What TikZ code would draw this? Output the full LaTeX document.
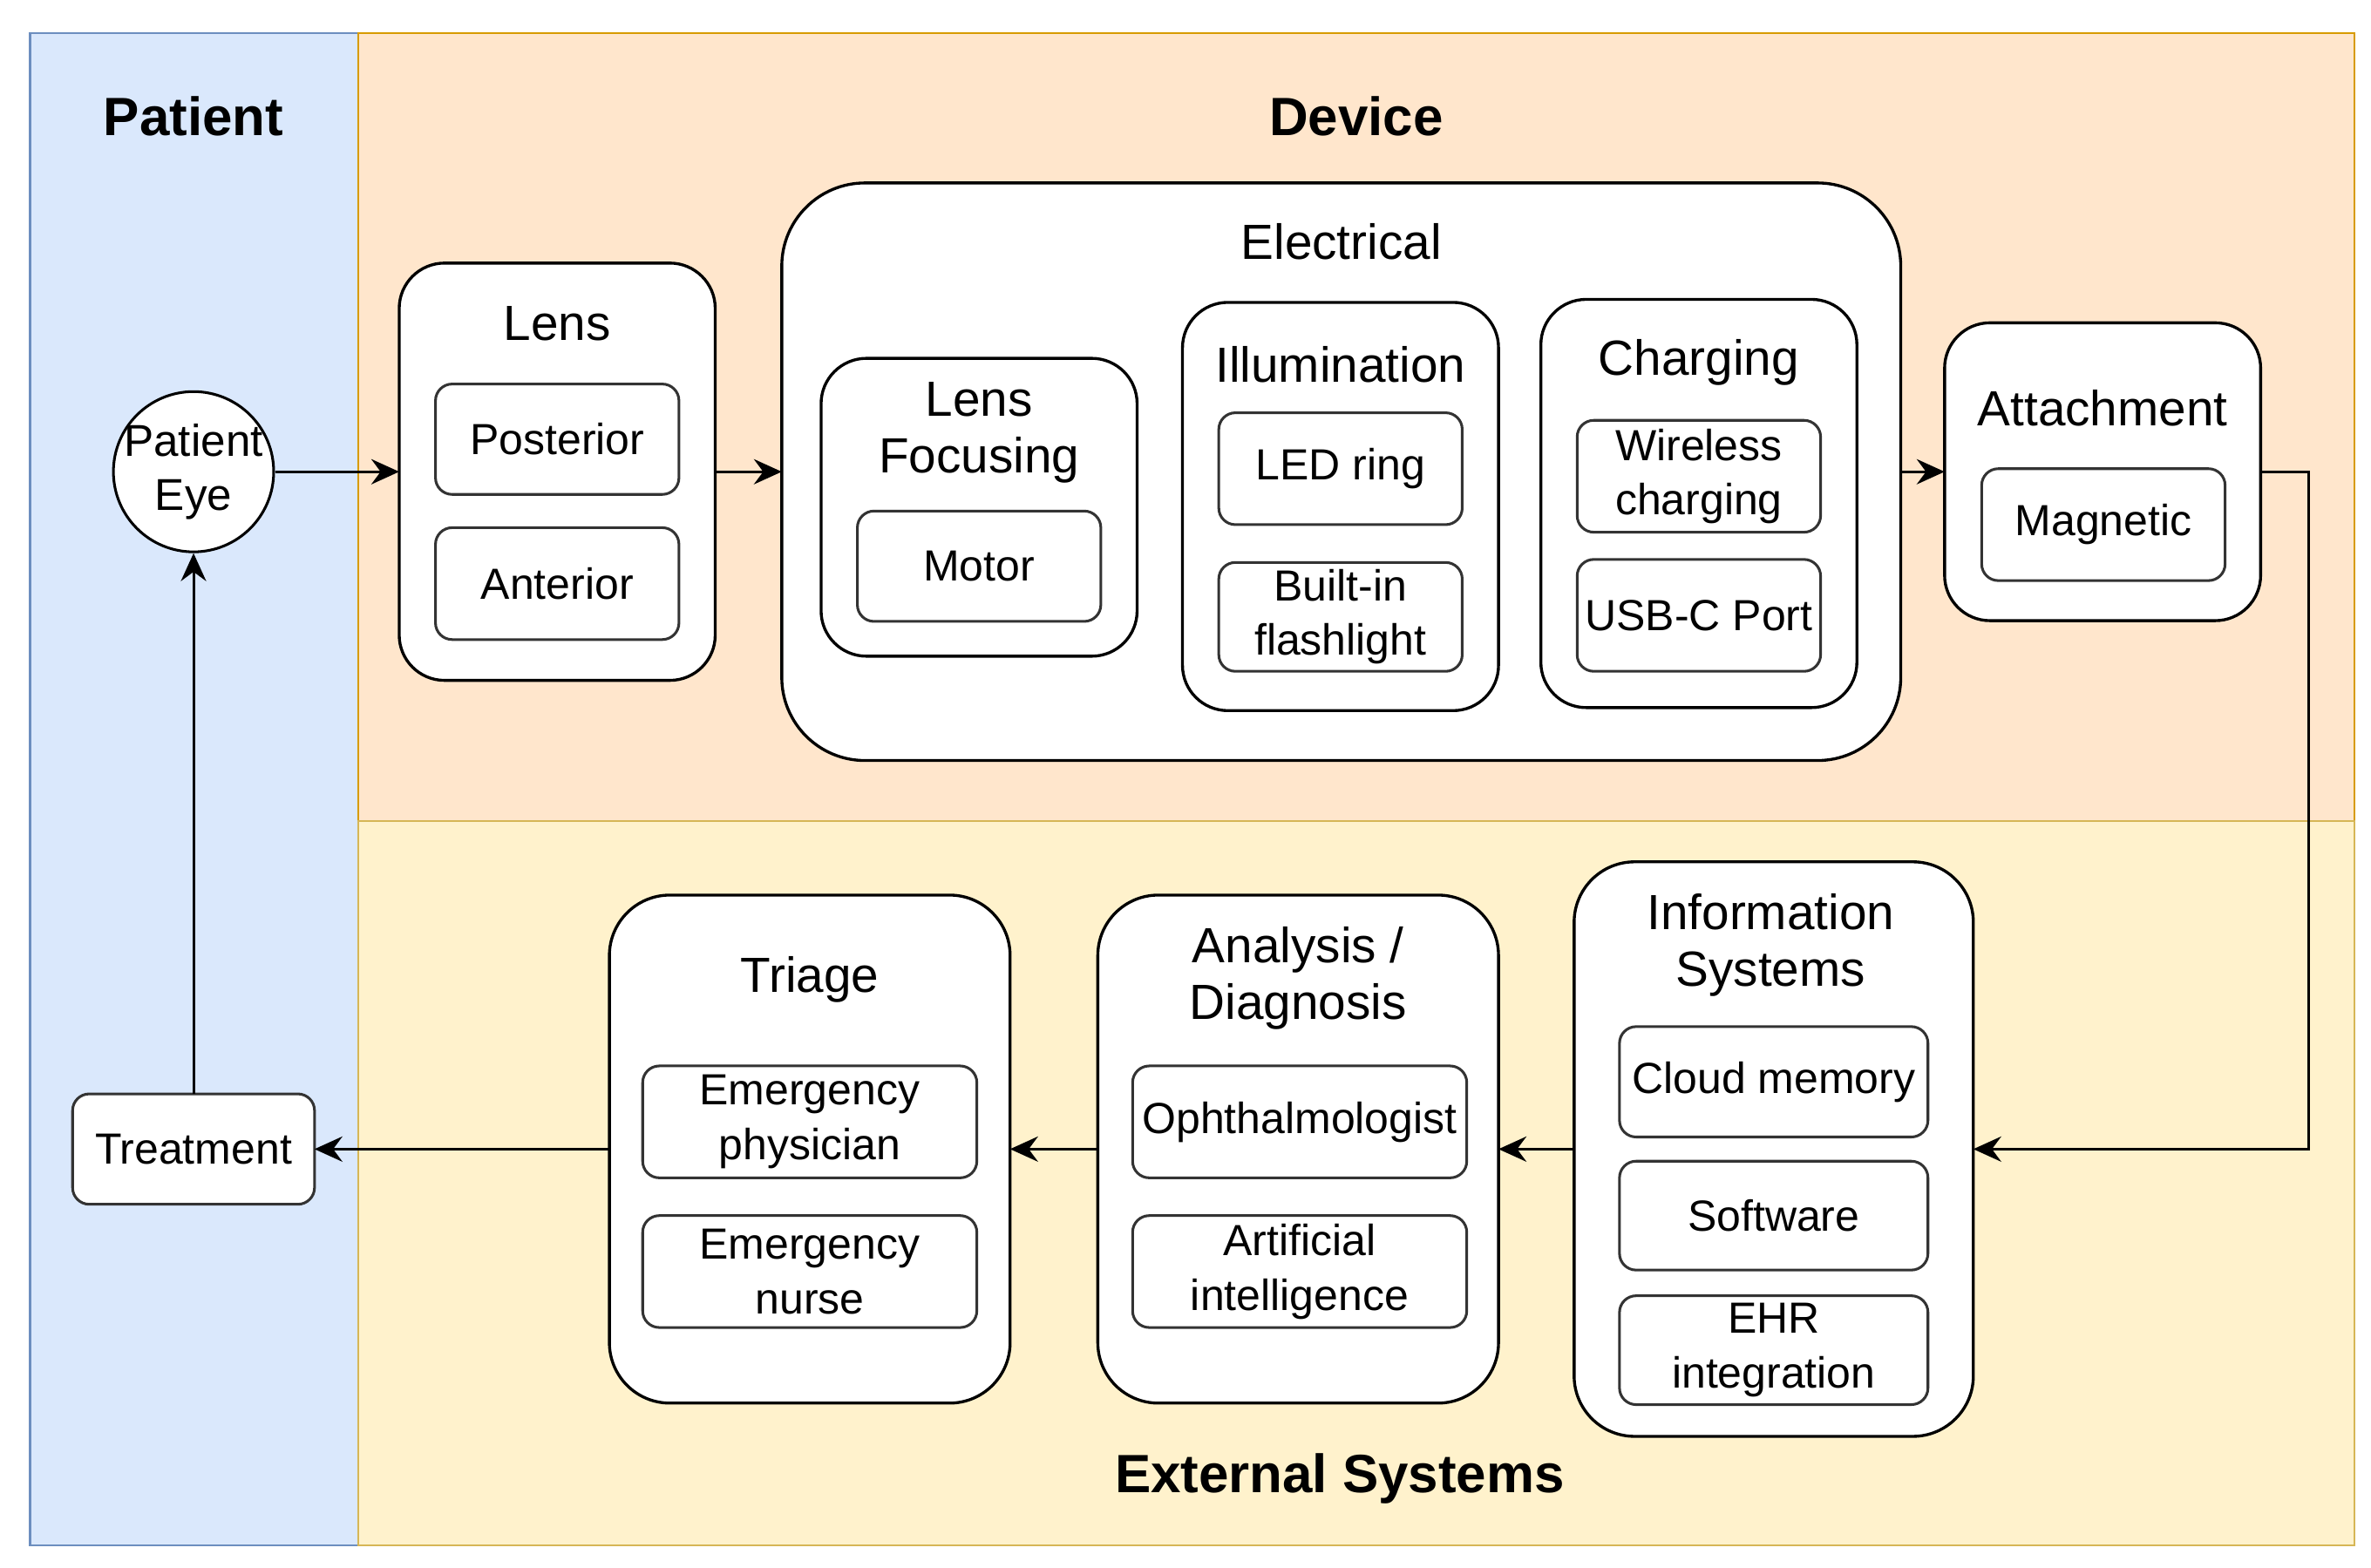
\documentclass[tikz,border=0pt]{standalone}
\usepackage{fontspec}
\setmainfont{Liberation Sans}
\usetikzlibrary{arrows.meta}
\definecolor{blueF}{HTML}{DAE8FC}
\definecolor{blueD}{HTML}{6C8EBF}
\definecolor{orgF}{HTML}{FFE6CC}
\definecolor{orgD}{HTML}{D79B00}
\definecolor{yelF}{HTML}{FFF2CC}
\definecolor{yelD}{HTML}{D6B656}
\begin{document}
\begin{tikzpicture}[x=0.02cm,y=-0.02cm,
  font=\fontsize{16.4}{20.5}\selectfont,
  lane/.style n args={2}{draw, line width=0.8pt, inner sep=0pt, outer sep=0pt, anchor=north west, minimum width=#1*0.02cm, minimum height=#2*0.02cm},
  cont/.style n args={3}{draw=black, fill=white, line width=1.1pt, rounded corners=#3, inner sep=0pt, outer sep=0pt, minimum width=#1*0.02cm, minimum height=#2*0.02cm},
  item/.style n args={2}{draw=black!80, fill=white, line width=1pt, rounded corners=0.22cm, inner sep=0pt, outer sep=0pt, align=center, minimum width=#1*0.02cm, minimum height=#2*0.02cm},
  ttl/.style={align=center, inner sep=0pt, font=\fontsize{18.6}{21.2}\selectfont},
  lanettl/.style={font=\fontsize{20.3}{24}\selectfont\bfseries, inner sep=0pt},
  arr/.style={draw=black, line width=1pt, -{Stealth[length=10.5pt,width=9.5pt,inset=3.5pt]}}
]
\useasboundingbox (0,0) rectangle (1568,1037);

% lanes
\node[lane={217}{1000}, fill=blueF, draw=blueD] (patientlane) at (20,22) {};
\node[lane={1320}{521}, fill=orgF, draw=orgD] (devicelane) at (237,22) {};
\node[lane={1320}{479}, fill=yelF, draw=yelD] (extlane) at (237,543) {};
\node[lanettl] (patientttl) at (128,77) {Patient};
\node[lanettl] (devicettl) at (897,77) {Device};
\node[lanettl] (extttl) at (886,978) {External Systems};

% patient lane
\node[circle, draw=black, fill=white, line width=1pt, minimum size=106*0.02cm, inner sep=-12pt, align=center, font=\fontsize{16.8}{20.5}\selectfont] (eye) at (128,312) {Patient\\Eye};
\node[item={160}{73}] (treat) at (128,760) {Treatment};

% device lane
\node[cont={209}{276}{0.6cm}] (lens) at (368.5,312) {};
\node[ttl] (lensttl) at (368.5,214) {Lens};
\node[item={161}{73}] (post) at (368.5,290.5) {Posterior};
\node[item={161}{74}] (ant) at (368.5,386) {Anterior};

\node[cont={740}{382}{1.1cm}] (elec) at (887,312) {};
\node[ttl] (electtl) at (887,160) {Electrical};

\node[cont={209}{197}{0.6cm}] (focus) at (647.5,335.5) {};
\node[ttl] (focusttl) at (647.5,286) {Lens\\Focusing};
\node[item={161}{73}] (motor) at (647.5,374.5) {Motor};

\node[cont={209}{270}{0.6cm}] (illum) at (886.5,335) {};
\node[ttl] (illumttl) at (886.5,241) {Illumination};
\node[item={161}{74}] (led) at (886.5,310) {LED ring};
\node[item={161}{72}] (flash) at (886.5,408) {Built-in\\flashlight};

\node[cont={209}{270}{0.6cm}] (charge) at (1123.5,333) {};
\node[ttl] (chargettl) at (1123.5,240) {Charging};
\node[item={161}{74}] (wireless) at (1123.5,315) {Wireless\\charging};
\node[item={161}{74}] (usbc) at (1123.5,407) {USB-C Port};

\node[cont={209}{197}{0.6cm}] (attach) at (1390.5,312) {};
\node[ttl] (attachttl) at (1390.5,270) {Attachment};
\node[item={161}{74}] (magnet) at (1391,347) {Magnetic};

% external lane
\node[cont={265}{336}{0.8cm}] (triage) at (535.5,760) {};
\node[ttl] (triagettl) at (535.5,648) {Triage};
\node[item={221}{74}] (ephys) at (535.5,742) {Emergency\\physician};
\node[item={221}{74}] (enurse) at (535.5,841) {Emergency\\nurse};

\node[cont={265}{336}{0.8cm}] (anal) at (858.5,760) {};
\node[ttl] (analttl) at (858.5,647) {Analysis /\\Diagnosis};
\node[item={221}{74}] (ophth) at (859.5,742) {Ophthalmologist};
\node[item={221}{74}] (ai) at (859.5,841) {Artificial\\intelligence};

\node[cont={264}{380}{0.8cm}] (info) at (1173,760) {};
\node[ttl] (infottl) at (1171,625) {Information\\Systems};
\node[item={204}{73}] (cloud) at (1173,715.5) {Cloud memory};
\node[item={204}{72}] (soft) at (1173,804) {Software};
\node[item={204}{72}] (ehr) at (1173,893) {EHR\\integration};

% connectors
\coordinate (bend) at (1527,312);
\draw[arr] (eye.east) -- (lens.west);
\draw[arr] (lens.east) -- (elec.west);
\draw[arr] (elec.east) -- (attach.west);
\draw[arr] (attach.east) -- (bend) |- (info.east);
\draw[arr] (info.west) -- (anal.east);
\draw[arr] (anal.west) -- (triage.east);
\draw[arr] (triage.west) -- (treat.east);
\draw[arr] (treat.north) -- (eye.south);
\end{tikzpicture}
\end{document}
